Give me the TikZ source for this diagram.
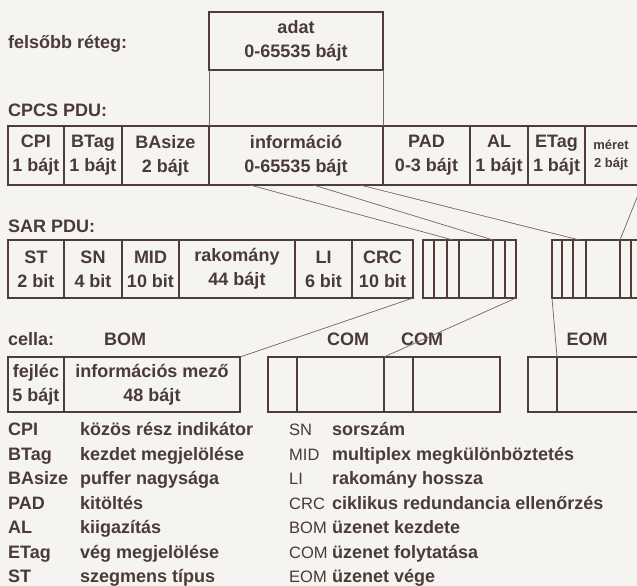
\documentclass[tikz,border=0pt]{standalone}
\usepackage{fontspec}
\setmainfont{Liberation Sans}
\usetikzlibrary{positioning,calc}
\definecolor{inkbrown}{RGB}{82,60,56}
\definecolor{textbrown}{RGB}{74,58,58}
\definecolor{paper}{RGB}{245,244,240}
\definecolor{thinink}{RGB}{120,100,96}

\begin{document}
\begin{tikzpicture}[x=1pt,y=-1pt,
  box/.style={rectangle,draw=inkbrown,line width=1.6pt,inner sep=0pt,outer sep=0pt,
    minimum height=58pt,align=center,text=textbrown,font=\fontsize{18}{24}\selectfont\bfseries},
  cellbox/.style={box,minimum height=55pt},
  rowname/.style={anchor=base west,inner sep=0pt,text=textbrown,font=\fontsize{18}{22}\selectfont\bfseries},
  segname/.style={anchor=base,inner sep=0pt,text=textbrown,font=\fontsize{18}{22}\selectfont\bfseries},
  abbr/.style={anchor=base west,inner sep=0pt,text=textbrown,font=\fontsize{18}{22}\selectfont\bfseries},
  abbrthin/.style={abbr,font=\fontsize{16.5}{22}\selectfont},
  expl/.style={anchor=base west,inner sep=0pt,text=textbrown,font=\fontsize{18}{22}\selectfont\bfseries},
  conn/.style={thinink,line width=0.7pt}
]
\useasboundingbox (0,0) rectangle (637,586);
\fill[paper] (0,0) rectangle (637,586);
\clip (0,0) rectangle (637,586);

% upper layer
\node[rowname] (upper) at (8,48.5) {felsőbb réteg:};
\node[box,minimum width=174pt,anchor=north west] (adat) at (209,12) {adat\\0-65535 bájt};

% CPCS PDU
\node[rowname] (cpcs) at (8,116.5) {CPCS PDU:};
\node[box,minimum height=59pt,minimum width=56pt,anchor=north west] (cpi) at (8,126) {CPI\\1 bájt};
\node[box,minimum height=59pt,minimum width=58pt,right=0pt of cpi] (btag) {BTag\\1 bájt};
\node[box,minimum height=59pt,minimum width=87pt,right=0pt of btag] (basize) {BAsize\\2 bájt};
\node[box,minimum height=59pt,minimum width=174pt,right=0pt of basize] (info) {információ\\0-65535 bájt};
\node[box,minimum height=59pt,minimum width=87pt,right=0pt of info] (pad) {PAD\\0-3 bájt};
\node[box,minimum height=59pt,minimum width=58pt,right=0pt of pad] (al) {AL\\1 bájt};
\node[box,minimum height=59pt,minimum width=57pt,right=0pt of al] (etag) {ETag\\1 bájt};
\node[box,minimum height=59pt,minimum width=52pt,right=0pt of etag,draw=none,
  font=\fontsize{13}{18}\selectfont\bfseries] (meret) {méret\\2 bájt};
\draw[inkbrown,line width=1.6pt] (meret.north west) -- ++(60,0) (meret.south west) -- ++(60,0);

\draw[conn] (adat.south west) -- (info.north west);
\draw[conn] (adat.south east) -- (info.north east);

% SAR PDU
\node[rowname] (sar) at (8,232.5) {SAR PDU:};
\node[box,minimum width=56pt,anchor=north west] (st) at (8,240) {ST\\2 bit};
\node[box,minimum width=58pt,right=0pt of st] (sn) {SN\\4 bit};
\node[box,minimum width=57pt,right=0pt of sn] (mid) {MID\\10 bit};
\node[box,minimum width=116pt,right=0pt of mid] (pay) {rakomány\\44 bájt};
\node[box,minimum width=57pt,right=0pt of pay] (li) {LI\\6 bit};
\node[box,minimum width=61pt,right=0pt of li] (crc) {CRC\\10 bit};

\node[box,minimum width=11pt,anchor=north west] (st2) at (423,240) {};
\node[box,minimum width=13pt,right=0pt of st2] (sn2) {};
\node[box,minimum width=12pt,right=0pt of sn2] (mid2) {};
\node[box,minimum width=34pt,right=0pt of mid2] (pay2) {};
\node[box,minimum width=12pt,right=0pt of pay2] (li2) {};
\node[box,minimum width=11pt,right=0pt of li2] (crc2) {};

\node[box,minimum width=10pt,anchor=north west] (st3) at (552,240) {};
\node[box,minimum width=11pt,right=0pt of st3] (sn3) {};
\node[box,minimum width=13pt,right=0pt of sn3] (mid3) {};
\node[box,minimum width=34pt,right=0pt of mid3] (pay3) {};
\node[box,minimum width=11pt,right=0pt of pay3] (li3) {};
\node[box,minimum width=11pt,right=0pt of li3] (crc3) {};

\draw[conn] ($(info.south west)!0.236!(info.south east)$) -- (mid2.north);
\draw[conn] ($(info.south west)!0.6!(info.south east)$) -- (pay2.north east);
\draw[conn] ($(info.south west)!0.868!(info.south east)$) -- (mid3.north);
\draw[conn] ($(meret.south east)+(5,0)$) -- (li3.north west);

% cells
\node[rowname] (cella) at (8,345.5) {cella:};
\node[segname] (bom) at (125,345.5) {BOM};
\node[segname] (com1) at (348,345.5) {COM};
\node[segname] (com2) at (422,345.5) {COM};
\node[segname] (eom) at (587,345.5) {EOM};

\node[cellbox,minimum width=56pt,anchor=north west] (hdr) at (8,357) {fejléc\\5 bájt};
\node[cellbox,minimum width=176pt,right=0pt of hdr] (field) {információs mező\\48 bájt};
\node[cellbox,minimum width=29pt,anchor=north west] (com1h) at (268,357) {};
\node[cellbox,minimum width=87pt,right=0pt of com1h] (com1f) {};
\node[cellbox,minimum width=29pt,right=0pt of com1f] (com2h) {};
\node[cellbox,minimum width=87pt,right=0pt of com2h] (com2f) {};
\node[cellbox,minimum width=29pt,anchor=north west] (eomh) at (528,357) {};
\node[cellbox,minimum width=100pt,right=0pt of eomh] (eomf) {};

\draw[conn] (crc.south east) -- (field.north east);
\draw[conn] (crc2.south east) -- (com2h.north west);
\draw[conn] (st3.south west) -- (eomh.north east);

% legend
\node[abbr] (kcpi) at (8,435.5) {CPI};     \node[expl] (dcpi) at (80,435.5) {közös rész indikátor};
\node[abbr] (kbtag) at (8,460) {BTag};     \node[expl] (dbtag) at (80,460) {kezdet megjelölése};
\node[abbr] (kbas) at (8,484.5) {BAsize};  \node[expl] (dbas) at (80,484.5) {puffer nagysága};
\node[abbr] (kpad) at (8,509) {PAD};       \node[expl] (dpad) at (80,509) {kitöltés};
\node[abbr] (kal) at (8,533.5) {AL};       \node[expl] (dal) at (80,533.5) {kiigazítás};
\node[abbr] (ketag) at (8,558) {ETag};     \node[expl] (detag) at (80,558) {vég megjelölése};
\node[abbr] (kst) at (8,582) {ST};         \node[expl] (dst) at (80,582) {szegmens típus};
\node[abbrthin] (ksn) at (289,435.5) {SN};    \node[expl] (dsn) at (332,435.5) {sorszám};
\node[abbrthin] (kmid) at (289,460) {MID};    \node[expl] (dmid) at (332,460) {multiplex megkülönböztetés};
\node[abbrthin] (kli) at (289,484.5) {LI};    \node[expl] (dli) at (332,484.5) {rakomány hossza};
\node[abbrthin] (kcrc) at (289,509) {CRC};    \node[expl] (dcrc) at (332,509) {ciklikus redundancia ellenőrzés};
\node[abbrthin] (kbom) at (289,533.5) {BOM};  \node[expl] (dbom) at (332,533.5) {üzenet kezdete};
\node[abbrthin] (kcom) at (289,558) {COM};    \node[expl] (dcom) at (332,558) {üzenet folytatása};
\node[abbrthin] (keom) at (289,582) {EOM};    \node[expl] (deom) at (332,582) {üzenet vége};
\end{tikzpicture}
\end{document}
